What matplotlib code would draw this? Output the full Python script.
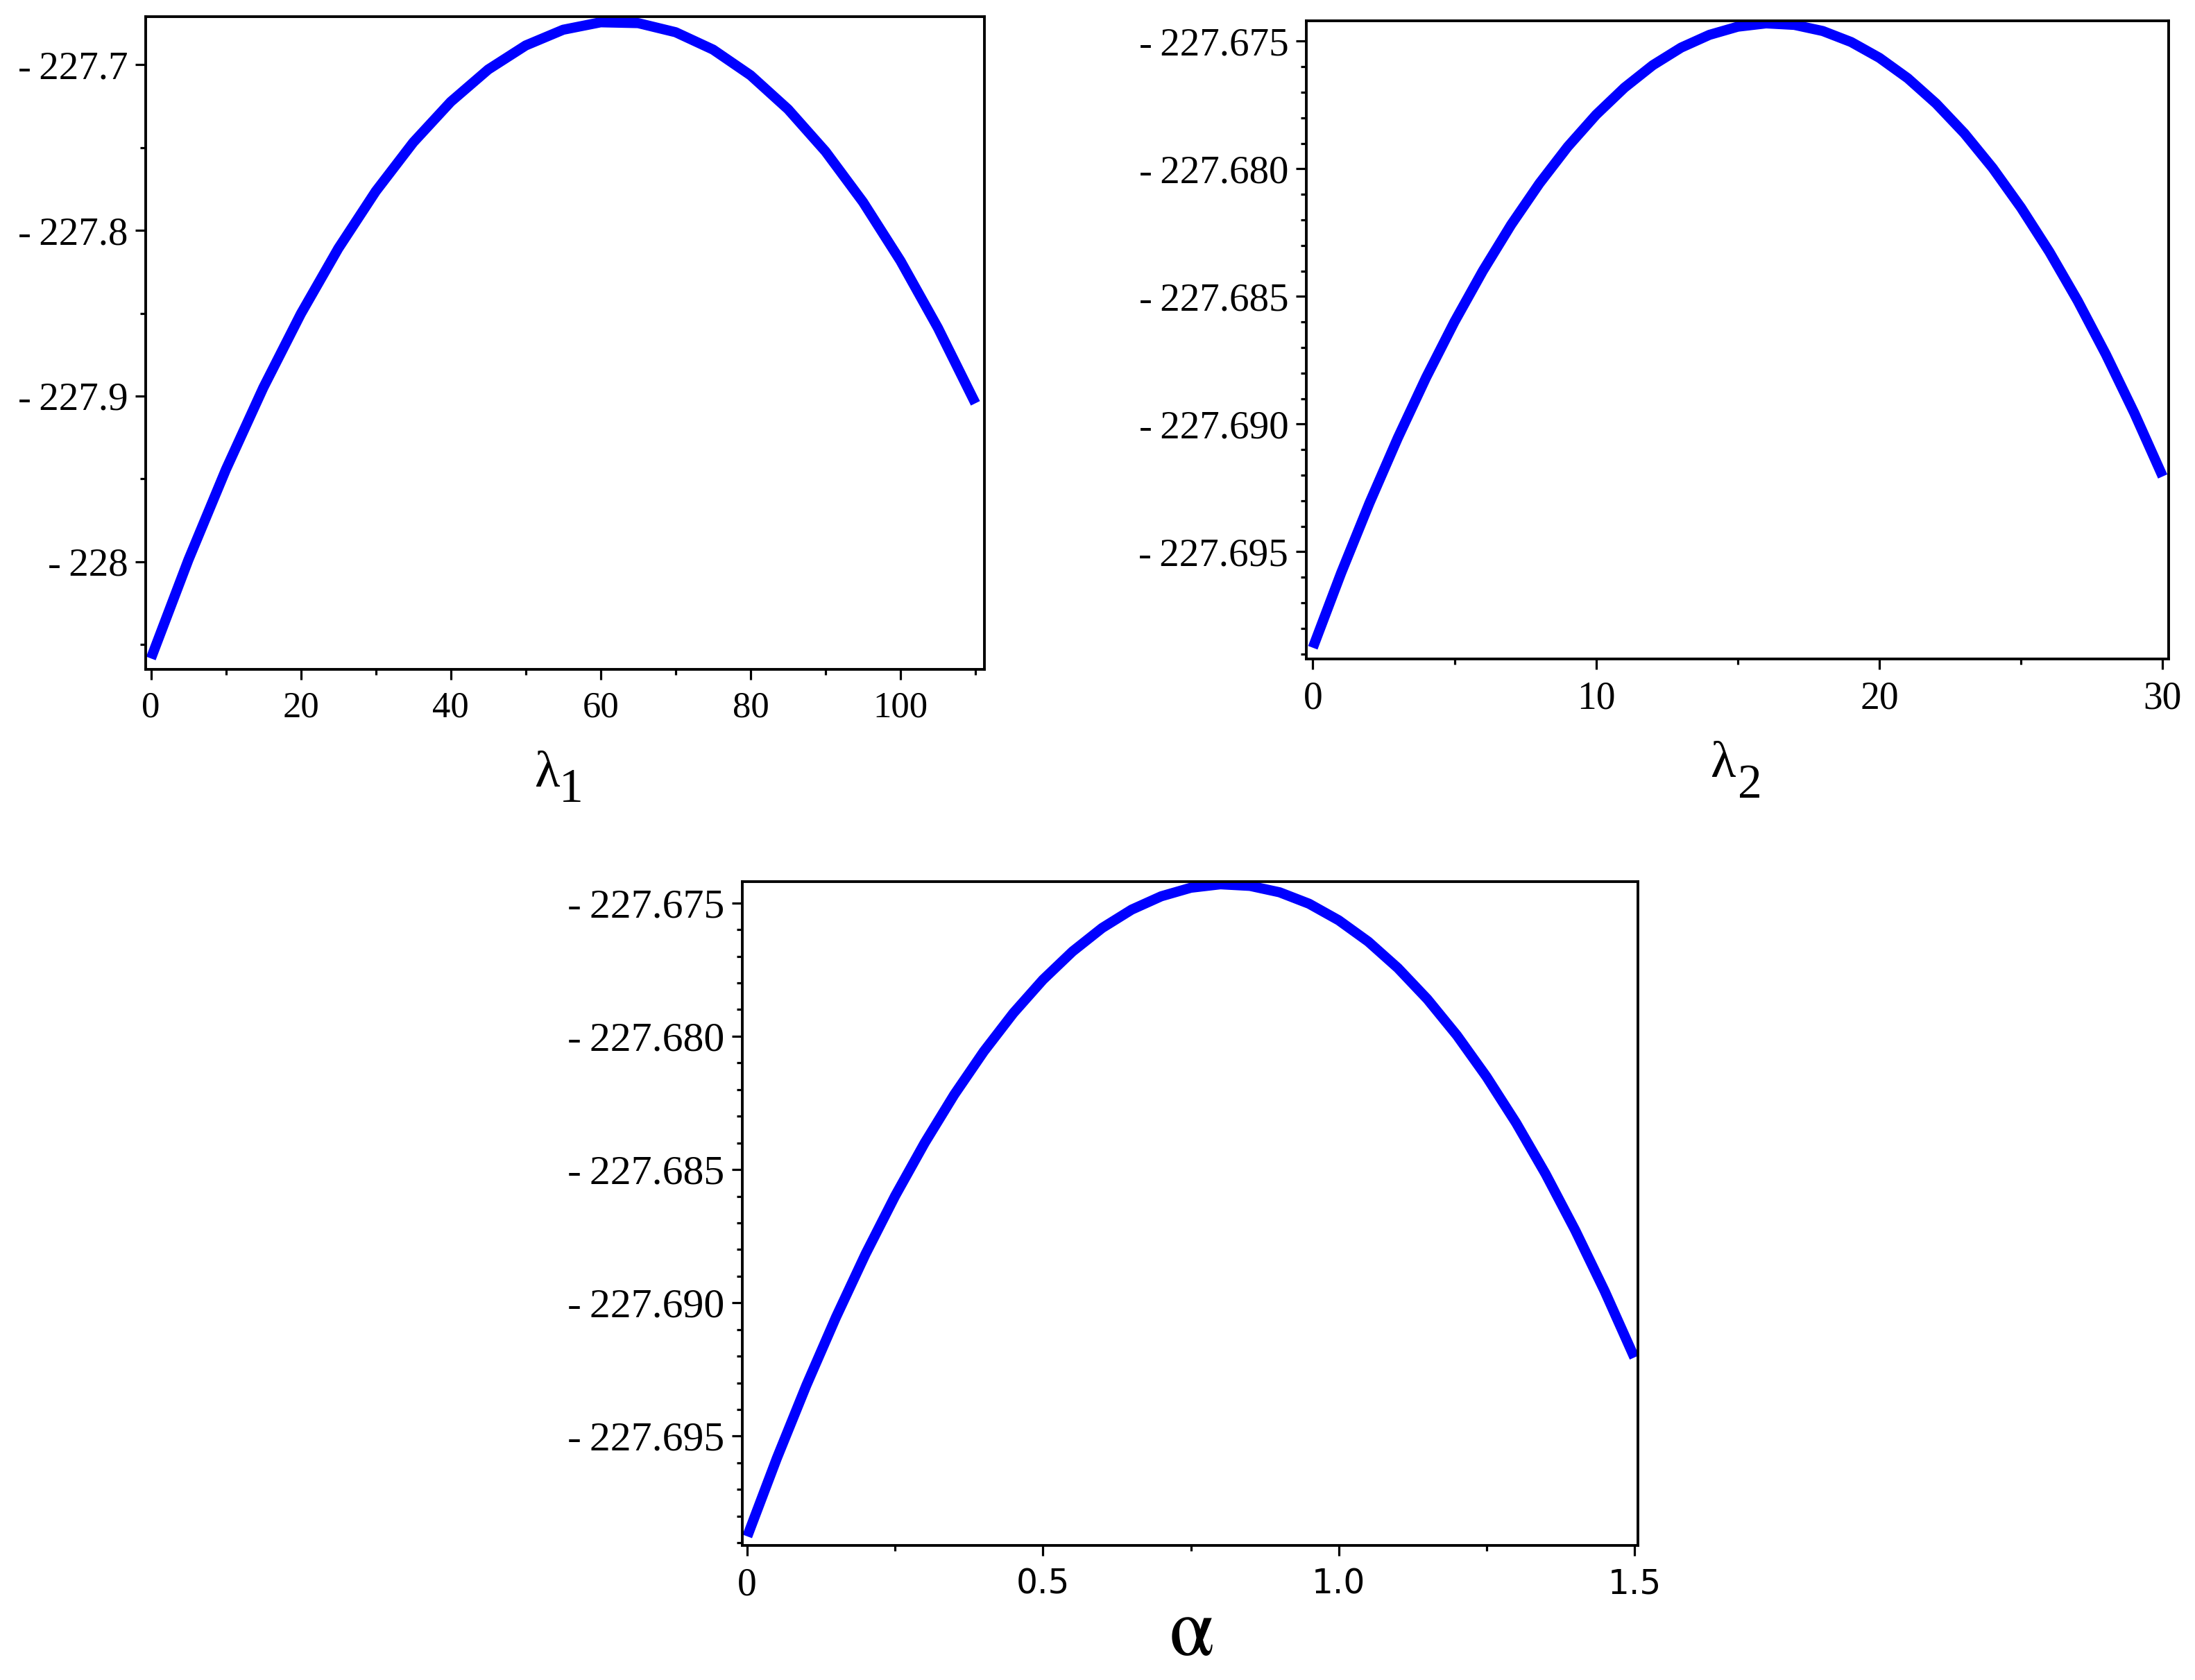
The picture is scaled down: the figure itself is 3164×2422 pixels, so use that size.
import matplotlib

matplotlib.use("Agg")
import matplotlib.pyplot as plt
from matplotlib.ticker import FixedLocator, FixedFormatter

W, H = 3164, 2422

# profile log-likelihood
lam1 = [0, 5, 10, 15, 20, 25, 30, 35, 40, 45, 50, 55, 60, 65, 70, 75, 80, 85, 90, 95, 100, 105, 110]
loglik_lam1 = [-228.0584, -227.9989, -227.9444, -227.8949, -227.8504, -227.8109, -227.7764,
               -227.7469, -227.7224, -227.7029, -227.6884, -227.6789, -227.6744, -227.6749,
               -227.6804, -227.6909, -227.7064, -227.7269, -227.7524, -227.7829, -227.8184,
               -227.8589, -227.9044]

lam2 = list(range(0, 31))
loglik_lam2 = [-227.69876, -227.69583, -227.69309, -227.69054, -227.68817, -227.68599,
               -227.68400, -227.68219, -227.68057, -227.67913, -227.67788, -227.67682,
               -227.67594, -227.67525, -227.67475, -227.67443, -227.67430, -227.67436,
               -227.67460, -227.67503, -227.67565, -227.67645, -227.67744, -227.67861,
               -227.67997, -227.68152, -227.68325, -227.68517, -227.68728, -227.68957,
               -227.69205]

alpha = [i * 0.05 for i in range(31)]
loglik_alpha = [-227.69876, -227.69583, -227.69309, -227.69054, -227.68817, -227.68599,
                -227.68400, -227.68219, -227.68057, -227.67913, -227.67788, -227.67682,
                -227.67594, -227.67525, -227.67475, -227.67443, -227.67430, -227.67436,
                -227.67460, -227.67503, -227.67565, -227.67645, -227.67744, -227.67861,
                -227.67997, -227.68152, -227.68325, -227.68517, -227.68728, -227.68957,
                -227.69205]

y1_major = [-228.0, -227.9, -227.8, -227.7]
y1_labels = ["-\u2009228", "-\u2009227.9", "-\u2009227.8", "-\u2009227.7"]
y1_minor = [-228.05, -227.95, -227.85, -227.75]
x1_major = [0, 20, 40, 60, 80, 100]
x1_minor = [10, 30, 50, 70, 90, 110]

y2_major = [-227.695, -227.690, -227.685, -227.680, -227.675]
y2_labels = ["-\u2009227.695", "-\u2009227.690", "-\u2009227.685", "-\u2009227.680", "-\u2009227.675"]
y2_minor = [-227.699, -227.698, -227.697, -227.696, -227.694, -227.693, -227.692, -227.691,
            -227.689, -227.688, -227.687, -227.686, -227.684, -227.683, -227.682, -227.681,
            -227.679, -227.678, -227.677, -227.676]
x2_major = [0, 10, 20, 30]
x2_minor = [5, 15, 25]

x3_major = [0, 0.5, 1.0, 1.5]
x3_labels = ["0", "0.5", "1.0", "1.5"]
x3_minor = [0.25, 0.75, 1.25]

SERIF = ["Liberation Serif", "DejaVu Serif"]
SANS = ["DejaVu Sans"]
BLUE = "#0000ff"
LW = 10.5


def frac(box):
    x0, y0, x1, y1 = box
    return [x0 / W, 1 - y1 / H, (x1 - x0) / W, (y1 - y0) / H]


def style(ax):
    for s in ax.spines.values():
        s.set_linewidth(2.8)
        s.set_color("black")
    ax.tick_params(which="both", direction="out", top=False, right=False, width=2.3, color="black")
    ax.tick_params(which="major", length=10.5)
    ax.tick_params(which="minor", length=6)
    ax.tick_params(axis="y", pad=8)
    ax.tick_params(axis="x", pad=12)


fig = plt.figure(figsize=(W / 100, H / 100), dpi=100)

# panel 1: lambda_1
ax1 = fig.add_axes(frac((210, 24, 1419, 965)))
ax1.plot(lam1, loglik_lam1, color=BLUE, lw=LW, solid_joinstyle="round", solid_capstyle="butt")
ax1.set_xlim(-0.7, 111.2)
ax1.set_ylim(-228.065, -227.671)
style(ax1)
ax1.yaxis.set_major_locator(FixedLocator(y1_major))
ax1.yaxis.set_major_formatter(FixedFormatter(y1_labels))
ax1.yaxis.set_minor_locator(FixedLocator(y1_minor))
ax1.xaxis.set_major_locator(FixedLocator(x1_major))
ax1.xaxis.set_minor_locator(FixedLocator(x1_minor))
for t in ax1.get_yticklabels():
    t.set_fontfamily(SERIF)
    t.set_fontsize(41)
for t in ax1.get_xticklabels():
    t.set_fontfamily(SERIF)
    t.set_fontsize(38)

# panel 2: lambda_2
ax2 = fig.add_axes(frac((1883, 30, 3126, 950)))
ax2.plot(lam2, loglik_lam2, color=BLUE, lw=LW, solid_joinstyle="round", solid_capstyle="butt")
ax2.set_xlim(-0.23, 30.21)
ax2.set_ylim(-227.6992, -227.6742)
style(ax2)
ax2.yaxis.set_major_locator(FixedLocator(y2_major))
ax2.yaxis.set_major_formatter(FixedFormatter(y2_labels))
ax2.yaxis.set_minor_locator(FixedLocator(y2_minor))
ax2.xaxis.set_major_locator(FixedLocator(x2_major))
ax2.xaxis.set_minor_locator(FixedLocator(x2_minor))
for t in ax2.get_yticklabels():
    t.set_fontfamily(SERIF)
    t.set_fontsize(41)
for t in ax2.get_xticklabels():
    t.set_fontfamily(SERIF)
    t.set_fontsize(40)

# panel 3: alpha
ax3 = fig.add_axes(frac((1070, 1271, 2361, 2228)))
ax3.plot(alpha, loglik_alpha, color=BLUE, lw=LW, solid_joinstyle="round", solid_capstyle="butt")
ax3.set_xlim(-0.0084, 1.506)
ax3.set_ylim(-227.6991, -227.6742)
style(ax3)
ax3.yaxis.set_major_locator(FixedLocator(y2_major))
ax3.yaxis.set_major_formatter(FixedFormatter(y2_labels))
ax3.yaxis.set_minor_locator(FixedLocator(y2_minor))
ax3.xaxis.set_major_locator(FixedLocator(x3_major))
ax3.xaxis.set_major_formatter(FixedFormatter(x3_labels))
ax3.xaxis.set_minor_locator(FixedLocator(x3_minor))
for t in ax3.get_yticklabels():
    t.set_fontfamily(SERIF)
    t.set_fontsize(43)
for i, t in enumerate(ax3.get_xticklabels()):
    # the zero is set in the serif face, the rest in sans
    t.set_fontfamily(SERIF if i == 0 else SANS)
    t.set_fontsize(40 if i == 0 else 35)


def ftext(x, y, s, **kw):
    fig.text(x / W, 1 - y / H, s, **kw)


# axis labels (lambda with a full size, lowered index)
ftext(789, 1134, "λ", ha="center", va="baseline", fontsize=54, family=SERIF)
ftext(823, 1156, "1", ha="center", va="baseline", fontsize=50, family=SERIF)
ftext(2484, 1120, "λ", ha="center", va="baseline", fontsize=54, family=SERIF)
ftext(2522, 1150, "2", ha="center", va="baseline", fontsize=50, family=SERIF)
ftext(1717, 2386, "α", ha="center", va="baseline", fontsize=84, family=["STIXGeneral", "DejaVu Serif"])

fig.savefig("out.png", dpi=100, facecolor="white")
